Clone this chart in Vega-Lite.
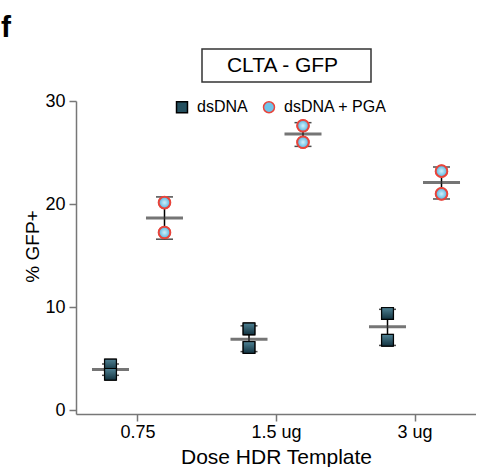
{
  "$schema": "https://vega.github.io/schema/vega-lite/v6.json",
  "padding": {"left": 0, "top": 13, "right": 0, "bottom": 0},
  "title": {"text": "f", "anchor": "start", "frame": "bounds", "fontSize": 30, "fontWeight": "bold", "color": "#000", "dx": -23, "offset": 5},
  "config": {
    "font": "Liberation Sans",
    "view": {"stroke": null}
  },
  "datasets": {
    "points": [
      {"dose": "0.75", "group": "dsDNA", "value": 4.4},
      {"dose": "0.75", "group": "dsDNA", "value": 3.5},
      {"dose": "1.5 ug", "group": "dsDNA", "value": 7.9},
      {"dose": "1.5 ug", "group": "dsDNA", "value": 6.1},
      {"dose": "3 ug", "group": "dsDNA", "value": 9.4},
      {"dose": "3 ug", "group": "dsDNA", "value": 6.8},
      {"dose": "0.75", "group": "dsDNA + PGA", "value": 20.15},
      {"dose": "0.75", "group": "dsDNA + PGA", "value": 17.25},
      {"dose": "1.5 ug", "group": "dsDNA + PGA", "value": 27.6},
      {"dose": "1.5 ug", "group": "dsDNA + PGA", "value": 26.0},
      {"dose": "3 ug", "group": "dsDNA + PGA", "value": 23.2},
      {"dose": "3 ug", "group": "dsDNA + PGA", "value": 21.0}
    ],
    "summary": [
      {"dose": "0.75", "group": "dsDNA", "mean": 3.97, "lo": 3.4, "hi": 4.5},
      {"dose": "1.5 ug", "group": "dsDNA", "mean": 6.9, "lo": 5.7, "hi": 8.2},
      {"dose": "3 ug", "group": "dsDNA", "mean": 8.1, "lo": 6.3, "hi": 9.8},
      {"dose": "0.75", "group": "dsDNA + PGA", "mean": 18.66, "lo": 16.6, "hi": 20.7},
      {"dose": "1.5 ug", "group": "dsDNA + PGA", "mean": 26.8, "lo": 25.6, "hi": 27.9},
      {"dose": "3 ug", "group": "dsDNA + PGA", "mean": 22.1, "lo": 20.5, "hi": 23.6}
    ],
    "titlebox": [{"label": "CLTA - GFP"}],
    "empty": []
  },
  "bounds": "flush",
  "spacing": 52,
  "vconcat": [
    {
      "spacing": 0,
      "bounds": "flush",
      "hconcat": [
        {"width": 126, "height": 33, "data": {"name": "empty"}, "mark": "text", "encoding": {}},
        {
          "width": 169, "height": 33,
          "view": {"stroke": "#333333", "strokeWidth": 1.5},
          "data": {"name": "titlebox"},
          "mark": {"type": "text", "fontSize": 21, "dx": -4, "color": "#000"},
          "encoding": {"text": {"field": "label"}}
        }
      ]
    },
    {
      "width": 400,
      "height": 313,
      "encoding": {
        "x": {
          "field": "dose", "type": "nominal",
          "scale": {"type": "point", "domain": ["0.75", "1.5 ug", "3 ug"], "padding": 0.444},
          "axis": {"title": "Dose HDR Template", "titleFontSize": 21, "titleFontWeight": "normal", "titleColor": "#000", "titlePadding": 5,
                   "labelAngle": 0, "labelFontSize": 18, "labelColor": "#000", "labelPadding": 2,
                   "tickSize": 7, "tickColor": "#777", "domainColor": "#777", "domainWidth": 1.5, "tickWidth": 1.5, "grid": false}
        },
        "xOffset": {"field": "group", "type": "nominal", "scale": {"type": "point", "domain": ["dsDNA", "dsDNA + PGA"], "range": [-27, 27], "padding": 0}}
      },
      "layer": [
        {
          "data": {"name": "summary"},
          "mark": {"type": "rule", "color": "#000", "strokeWidth": 1.5},
          "encoding": {
            "y": {"field": "lo", "type": "quantitative",
                  "scale": {"domain": [-0.35, 30], "nice": false, "zero": false},
                  "axis": {"title": "% GFP+", "titleFontSize": 19, "titleFontWeight": "normal", "titleColor": "#000", "titlePadding": 2, "titleY": 145,
                           "values": [0, 10, 20, 30], "labelFontSize": 18, "labelColor": "#000", "labelPadding": 4,
                           "tickSize": 7, "tickColor": "#777", "tickWidth": 1.5, "domainColor": "#777", "domainWidth": 1.5, "grid": false}},
            "y2": {"field": "hi"}
          }
        },
        {
          "data": {"name": "summary"},
          "mark": {"type": "tick", "color": "#000", "thickness": 1.5, "size": 17},
          "encoding": {"y": {"field": "lo", "type": "quantitative"}}
        },
        {
          "data": {"name": "summary"},
          "mark": {"type": "tick", "color": "#000", "thickness": 1.5, "size": 17},
          "encoding": {"y": {"field": "hi", "type": "quantitative"}}
        },
        {
          "data": {"name": "summary"},
          "mark": {"type": "tick", "color": "#3a3a3a", "thickness": 3, "size": 37},
          "encoding": {"y": {"field": "mean", "type": "quantitative"}}
        },
        {
          "data": {"name": "points"},
          "mark": {"type": "point", "filled": true, "opacity": 1, "size": 135, "strokeWidth": 1.5},
          "encoding": {
            "y": {"field": "value", "type": "quantitative"},
            "shape": {
              "field": "group", "type": "nominal",
              "scale": {"domain": ["dsDNA", "dsDNA + PGA"], "range": ["square", "circle"]},
              "legend": {
                "title": null, "orient": "none", "direction": "horizontal", "legendX": 98, "legendY": 50,
                "labelFontSize": 16, "labelColor": "#000", "labelOffset": 7, "columnPadding": 12, "padding": 0,
                "symbolSize": 120, "symbolStrokeWidth": 1.5, "symbolOpacity": 1
              }
            },
            "fill": {"field": "group", "type": "nominal", "scale": {"domain": ["dsDNA", "dsDNA + PGA"], "range": ["#24505f", "#6fc4ea"]}},
            "stroke": {"field": "group", "type": "nominal", "scale": {"domain": ["dsDNA", "dsDNA + PGA"], "range": ["#000000", "#e8453c"]}}
          }
        },
        {
          "data": {"name": "points"},
          "mark": {"type": "point", "filled": true, "opacity": 1, "size": 135},
          "encoding": {
            "y": {"field": "value", "type": "quantitative"},
            "shape": {"field": "group", "type": "nominal", "legend": null},
            "fill": {
              "condition": {"test": "datum.group === 'dsDNA'",
                "value": {"gradient": "linear", "x1": 0, "y1": 0, "x2": 0, "y2": 1,
                          "stops": [{"offset": 0, "color": "#4f8294"}, {"offset": 1, "color": "#12323f"}]}},
              "value": {"gradient": "radial", "x1": 0.5, "y1": 0.5, "r1": 0, "x2": 0.5, "y2": 0.5, "r2": 0.5,
                        "stops": [{"offset": 0, "color": "#d6f1fb"}, {"offset": 1, "color": "#4fb4e0"}]}
            },
            "stroke": {"condition": {"test": "datum.group === 'dsDNA'", "value": "#000000"}, "value": "#e8453c"},
            "strokeWidth": {"condition": {"test": "datum.group === 'dsDNA'", "value": 1}, "value": 2}
          }
        }
      ]
    }
  ]
}
